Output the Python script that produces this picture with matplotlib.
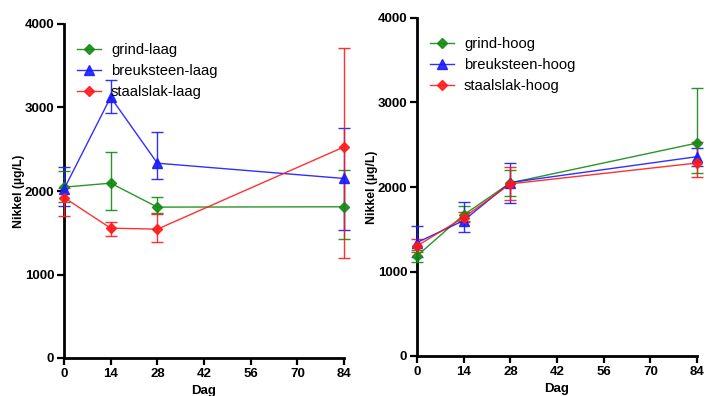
import matplotlib
matplotlib.use("Agg")
import matplotlib.pyplot as plt
import numpy as np

plt.rcParams['font.family'] = ['Liberation Sans', 'DejaVu Sans']

days = [0, 14, 28, 84]
xticks = [0, 14, 28, 42, 56, 70, 84]
yticks = [0, 1000, 2000, 3000, 4000]

# Left panel (laag)
grind_laag = [2046, 2094, 1807, 1811]
grind_laag_lo = [1870, 1775, 1735, 1424]
grind_laag_hi = [2241, 2469, 1926, 2249]
breuk_laag = [2022, 3123, 2333, 2150]
breuk_laag_lo = [1822, 2931, 2146, 1531]
breuk_laag_hi = [2293, 3330, 2712, 2756]
staal_laag = [1922, 1555, 1543, 2528]
staal_laag_lo = [1695, 1464, 1388, 1196]
staal_laag_hi = [2030, 1623, 1727, 3717]

# Right panel (hoog)
grind_hoog = [1185, 1670, 2049, 2520]
grind_hoog_lo = [1117, 1600, 1895, 2169]
grind_hoog_hi = [1250, 1777, 2200, 3168]
breuk_hoog = [1343, 1603, 2053, 2359]
breuk_hoog_lo = [1177, 1465, 1816, 2250]
breuk_hoog_hi = [1540, 1820, 2282, 2461]
staal_hoog = [1303, 1639, 2037, 2284]
staal_hoog_lo = [1230, 1580, 1848, 2122]
staal_hoog_hi = [1380, 1700, 2235, 2535]

green = '#138a13'
blue = '#1a1aff'
red = '#ff1a1a'

fig = plt.figure(figsize=(7.06, 3.96), dpi=100)
ax1 = fig.add_axes([64/706, 38/396, 280/706, 334/396])
ax2 = fig.add_axes([417/706, 40/396, 280/706, 338/396])

def series(ax, y, lo, hi, color, marker, label, ms):
    y = np.array(y); lo = np.array(lo); hi = np.array(hi)
    yerr = np.vstack([y - lo, hi - y])
    ax.errorbar(days, y, yerr=yerr, color=color, marker=marker, markersize=ms,
                lw=1.0, elinewidth=1.0, capsize=4, capthick=1.0, label=label,
                clip_on=False, zorder=3, alpha=0.9)

def setup(ax):
    ax.set_xlim(0, 84)
    ax.set_ylim(0, 4000)
    ax.set_xticks(xticks)
    ax.set_yticks(yticks)
    for s in ['top', 'right']:
        ax.spines[s].set_visible(False)
    for s in ['left', 'bottom']:
        ax.spines[s].set_linewidth(2.0)
    ax.tick_params(width=1.6, length=5, labelsize=9.5, direction='out', pad=2)
    for lab in ax.get_xticklabels() + ax.get_yticklabels():
        lab.set_fontweight('bold')
    ax.set_xlabel('Dag', fontsize=9.5, fontweight='bold', labelpad=4)
    ax.set_ylabel('Nikkel (µg/L)', fontsize=8.8, fontweight='bold', labelpad=0)

series(ax1, grind_laag, grind_laag_lo, grind_laag_hi, green, 'D', 'grind-laag', 5.5)
series(ax1, breuk_laag, breuk_laag_lo, breuk_laag_hi, blue, '^', 'breuksteen-laag', 6.5)
series(ax1, staal_laag, staal_laag_lo, staal_laag_hi, red, 'D', 'staalslak-laag', 5.5)
setup(ax1)

series(ax2, grind_hoog, grind_hoog_lo, grind_hoog_hi, green, 'D', 'grind-hoog', 5.5)
series(ax2, breuk_hoog, breuk_hoog_lo, breuk_hoog_hi, blue, '^', 'breuksteen-hoog', 6.5)
series(ax2, staal_hoog, staal_hoog_lo, staal_hoog_hi, red, 'D', 'staalslak-hoog', 5.5)
setup(ax2)

for ax in (ax1, ax2):
    handles, labels = ax.get_legend_handles_labels()
    handles = [h[0] for h in handles]
    ax.legend(handles, labels, loc='upper left', bbox_to_anchor=(0.01, 0.975),
              frameon=False, fontsize=10.6, handlelength=1.6, labelspacing=0.5,
              handletextpad=0.7, borderaxespad=0.3)

fig.savefig('out.png', dpi=100)
